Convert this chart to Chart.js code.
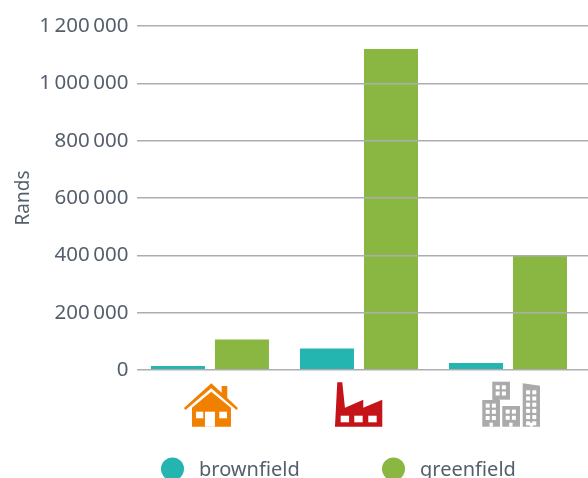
<!DOCTYPE html>
<html>
<head>
<meta charset="utf-8">
<title>Rands per site type</title>
<script src="https://cdn.jsdelivr.net/npm/chart.js@4"></script>
<style>
    html, body { margin: 0; padding: 0; background: #fff; overflow: hidden; }
    canvas { display: block; }
</style>
</head>
<body>
<canvas id="siteChart" width="588" height="478"></canvas>
<script>
    const categories = ['home', 'factory', 'city'];
    const brownfield = [14000, 75000, 24000];
    const greenfield = [106000, 1120000, 400000];
    const tickValues = [0, 200000, 400000, 600000, 800000, 1000000, 1200000];

    const textColor = '#555f6c';
    const gridColor = '#adadb1';
    const fontFamily = '"Noto Sans", sans-serif';

    function toPoints(values) {
        return values.map((v, i) => ({ x: i, y: v }));
    }

    function formatRands(value) {
        return String(value).replace(/\B(?=(\d{3})+$)/g, ' ');
    }

    // Icons are drawn around (0, 0), the bottom centre of the glyph
    const icons = {
        home(ctx) {
            ctx.fillStyle = '#f28000';
            ctx.beginPath();
            ctx.moveTo(-26, -18.7); ctx.lineTo(1.3, -43.4); ctx.lineTo(11.7, -34);
            ctx.lineTo(11.7, -40.7); ctx.lineTo(17.3, -40.7); ctx.lineTo(17.3, -28.6);
            ctx.lineTo(28, -18.7); ctx.lineTo(26.5, -16.7); ctx.lineTo(1.3, -38.5);
            ctx.lineTo(-24.5, -16.7);
            ctx.closePath();
            ctx.fill();
            ctx.beginPath();
            ctx.moveTo(-18, -19); ctx.lineTo(1.3, -35); ctx.lineTo(21, -19);
            ctx.lineTo(21, 0); ctx.lineTo(-18, 0);
            ctx.closePath();
            ctx.fill();
            ctx.fillStyle = '#fff';
            ctx.fillRect(-14, -15, 7.3, 6.6);
            ctx.fillRect(9.3, -15, 7.7, 6.6);
            ctx.fillRect(-5, -15, 10, 15);
        },
        factory(ctx) {
            ctx.fillStyle = '#c41418';
            ctx.beginPath();
            ctx.moveTo(-24, 0); ctx.lineTo(-21.7, -44.5); ctx.lineTo(-16.7, -44.5);
            ctx.lineTo(-14, -19); ctx.lineTo(4.3, -27); ctx.lineTo(4.3, -19);
            ctx.lineTo(23.3, -27); ctx.lineTo(23.3, 0);
            ctx.closePath();
            ctx.fill();
            ctx.fillStyle = '#fff';
            [-18.3, -4.7, 9.3].forEach(x => ctx.fillRect(x, -11, 8.4, 6.6));
        },
        city(ctx) {
            const grey = '#aaaaaa';
            const block = (x, top, rows) => {
                ctx.fillStyle = '#fff';
                for (let r = 0; r < rows; r++) {
                    for (let c = 0; c < 2; c++) {
                        ctx.fillRect(x + 3.4 + c * 6.2, top + 3.6 + r * 6.2, 4, 4);
                    }
                }
            };
            ctx.fillStyle = grey;
            ctx.fillRect(-15.7, -45, 17.7, 21);
            ctx.fillStyle = '#fff';
            ctx.fillRect(-9, -27, 12, 4);
            ctx.fillStyle = grey;
            ctx.fillRect(-25.7, -26.7, 17.7, 26.7);
            ctx.fillRect(-5.7, -20.7, 17.7, 20.7);
            ctx.beginPath();
            ctx.moveTo(14.7, 0); ctx.lineTo(14.7, -43.4); ctx.lineTo(32, -41); ctx.lineTo(32, 0);
            ctx.closePath();
            ctx.fill();
            block(-15.7, -45, 2);
            block(-25.7, -26.7, 3);
            block(-5.7, -20.7, 2);
            block(14.7, -40, 6);
            ctx.fillStyle = '#fff';
            ctx.fillRect(-18.5, -4, 3.4, 4);
            ctx.fillRect(1.2, -4, 3.4, 4);
            ctx.fillRect(21.7, -4, 3.4, 4);
        }
    };

    const iconPlugin = {
        id: 'categoryIcons',
        // tick labels have tight gaps between the thousands groups
        beforeDraw(chart) {
            chart.ctx.wordSpacing = '-1.8px';
        },
        afterDraw(chart) {
            const ctx = chart.ctx;
            const xScale = chart.scales.x;
            ctx.wordSpacing = '0px';
            categories.forEach((name, i) => {
                ctx.save();
                ctx.translate(xScale.getPixelForValue(i), 426.7);
                icons[name](ctx);
                ctx.restore();
            });
        }
    };

    // Legend with round swatches, sits low and runs off the bottom edge
    const legendPlugin = {
        id: 'roundLegend',
        afterDraw(chart) {
            const ctx = chart.ctx;
            const swatchX = [172.5, 393.5];
            chart.data.datasets.forEach((ds, i) => {
                ctx.save();
                ctx.fillStyle = ds.backgroundColor;
                ctx.beginPath();
                ctx.arc(swatchX[i], 469, 11.5, 0, Math.PI * 2);
                ctx.fill();
                ctx.fillStyle = textColor;
                ctx.font = '20px ' + fontFamily;
                ctx.textBaseline = 'alphabetic';
                ctx.fillText(ds.label, swatchX[i] + 26.5, 476);
                ctx.restore();
            });
        }
    };

    const siteChart = new Chart(document.getElementById('siteChart').getContext('2d'), {
        type: 'bar',
        data: {
            datasets: [
                { label: 'brownfield', data: toPoints(brownfield), backgroundColor: '#25b5b1' },
                { label: 'greenfield', data: toPoints(greenfield), backgroundColor: '#8ab642' }
            ]
        },
        options: {
            responsive: false,
            animation: false,
            categoryPercentage: 0.859,
            barPercentage: 0.844,
            layout: { padding: { top: 26, bottom: 108, left: 12, right: 0 } },
            plugins: {
                legend: { display: false },
                tooltip: { enabled: false }
            },
            scales: {
                x: {
                    type: 'linear',
                    offset: false,
                    min: -0.493,
                    max: 2.537,
                    ticks: { display: false, stepSize: 1, includeBounds: false },
                    grid: { display: false },
                    border: { display: false },
                    afterFit(scale) {
                        scale.height = 0;
                    }
                },
                y: {
                    min: 0,
                    max: 1200000,
                    afterBuildTicks(scale) {
                        scale.ticks = tickValues.map(value => ({ value }));
                    },
                    afterFit(scale) {
                        scale.width = 124.5;
                    },
                    ticks: {
                        color: textColor,
                        font: { family: fontFamily, size: 20.5 },
                        padding: 8,
                        callback: formatRands
                    },
                    grid: { color: gridColor, lineWidth: 1.5, drawTicks: false, z: 1 },
                    border: { display: false },
                    title: {
                        display: true,
                        text: 'Rands',
                        color: textColor,
                        font: { family: fontFamily, size: 19 },
                        padding: 0
                    }
                }
            }
        },
        plugins: [iconPlugin, legendPlugin]
    });
</script>
</body>
</html>
